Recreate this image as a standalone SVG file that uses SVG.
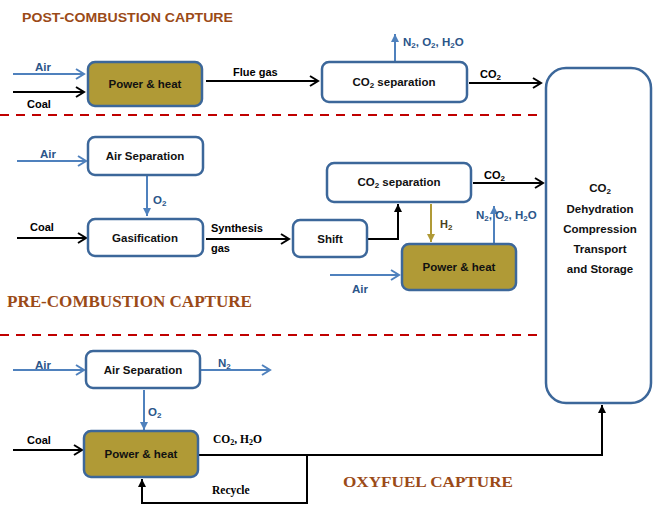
<svg xmlns="http://www.w3.org/2000/svg" width="653" height="506" viewBox="0 0 653 506">
<style>
.box{stroke:#3c679a;stroke-width:2.5}
.w{fill:#ffffff}
.g{fill:#b09a36}
.lbl{font-family:"Liberation Sans",Arial,sans-serif;font-weight:bold;font-size:11.5px;fill:#111;text-anchor:middle}
.st{font-family:"Liberation Sans",Arial,sans-serif;font-weight:bold;font-size:11.5px;fill:#111;text-anchor:middle}
.t{font-family:"Liberation Sans",Arial,sans-serif;font-weight:bold;font-size:11px;fill:#000}
.tb{font-family:"Liberation Sans",Arial,sans-serif;font-weight:bold;font-size:11.5px;fill:#2b5589}
.ts{font-family:"Liberation Serif","Times New Roman",serif;font-weight:bold;font-size:11.5px;fill:#000}
.head{font-weight:bold;fill:#9b4a17}
.blk{stroke:#000;stroke-width:2;fill:none}
.blu{stroke:#4f81bd;stroke-width:2;fill:none}
.gld{stroke:#b09a36;stroke-width:2;fill:none}
.dash{stroke:#c00000;stroke-width:2;stroke-dasharray:9,7;fill:none}
</style>
<defs>
<marker id="ob" viewBox="-10 -6 12 12" refX="0" refY="0" markerWidth="12" markerHeight="12" markerUnits="userSpaceOnUse" orient="auto"><polyline points="-8,-5 0,0 -8,5" fill="none" stroke="#000" stroke-width="2"/></marker>
<marker id="oc" viewBox="-10 -6 12 12" refX="0" refY="0" markerWidth="12" markerHeight="12" markerUnits="userSpaceOnUse" orient="auto"><polyline points="-8,-5 0,0 -8,5" fill="none" stroke="#4f81bd" stroke-width="2"/></marker>
<marker id="fb" viewBox="-8 -5 9 10" refX="0" refY="0" markerWidth="9" markerHeight="10" markerUnits="userSpaceOnUse" orient="auto"><polygon points="-8,-4 0,0 -8,4" fill="#000"/></marker>
<marker id="fc" viewBox="-8 -5 9 10" refX="0" refY="0" markerWidth="9" markerHeight="10" markerUnits="userSpaceOnUse" orient="auto"><polygon points="-8,-4 0,0 -8,4" fill="#4f81bd"/></marker>
<marker id="fg" viewBox="-8 -5 9 10" refX="0" refY="0" markerWidth="9" markerHeight="10" markerUnits="userSpaceOnUse" orient="auto"><polygon points="-8,-4 0,0 -8,4" fill="#b09a36"/></marker>
</defs>

<rect width="653" height="506" fill="#ffffff"/>

<!-- headings -->
<text x="22" y="22" class="head" font-family="'Liberation Sans',Arial,sans-serif" font-size="13" textLength="211" lengthAdjust="spacingAndGlyphs">POST-COMBUSTION CAPTURE</text>
<text x="7" y="307" class="head" font-family="'Liberation Serif','Times New Roman',serif" font-size="16" textLength="245" lengthAdjust="spacingAndGlyphs">PRE-COMBUSTION CAPTURE</text>
<text x="343" y="487" class="head" font-family="'Liberation Serif','Times New Roman',serif" font-size="15" textLength="170" lengthAdjust="spacingAndGlyphs">OXYFUEL CAPTURE</text>

<!-- dashed separators -->
<line x1="0" y1="115" x2="540" y2="115" class="dash"/>
<line x1="0" y1="335" x2="540" y2="335" class="dash"/>

<g id="connectors">
<!-- post-combustion -->
<line x1="13" y1="74" x2="84" y2="74" class="blu" marker-end="url(#oc)"/>
<line x1="13" y1="92" x2="84" y2="92" class="blk" marker-end="url(#ob)"/>
<line x1="206" y1="81" x2="318" y2="81" class="blk" marker-end="url(#ob)"/>
<line x1="395" y1="61" x2="395" y2="34" class="blu" marker-end="url(#fc)"/>
<line x1="469" y1="83" x2="541" y2="83" class="blk" marker-end="url(#ob)"/>
<!-- pre-combustion -->
<line x1="17" y1="161" x2="86" y2="161" class="blu" marker-end="url(#oc)"/>
<line x1="147" y1="176" x2="147" y2="216" class="blu" marker-end="url(#fc)"/>
<line x1="17" y1="238" x2="86" y2="238" class="blk" marker-end="url(#ob)"/>
<line x1="206" y1="239" x2="289" y2="239" class="blk" marker-end="url(#ob)"/>
<polyline points="368,239 398,239 398,204" class="blk" stroke="#222" marker-end="url(#fb)"/>
<line x1="473" y1="183" x2="543" y2="183" class="blk" marker-end="url(#ob)"/>
<line x1="431" y1="204" x2="431" y2="242" class="gld" marker-end="url(#fg)"/>
<line x1="330" y1="275" x2="399" y2="275" class="blu" marker-end="url(#oc)"/>
<line x1="494" y1="243" x2="494" y2="206" class="blu" marker-end="url(#fc)"/>
<!-- oxyfuel -->
<line x1="13" y1="370" x2="84" y2="370" class="blu" marker-end="url(#oc)"/>
<line x1="201" y1="370" x2="270" y2="370" class="blu" marker-end="url(#oc)"/>
<line x1="144" y1="390" x2="144" y2="430" class="blu" marker-end="url(#fc)"/>
<line x1="13" y1="450" x2="82" y2="450" class="blk" marker-end="url(#ob)"/>
<polyline points="199,455 602,455 602,405" class="blk" marker-end="url(#fb)"/>
<polyline points="307,455 307,503 142,503 142,479" class="blk" marker-end="url(#fb)"/>
</g>

<!-- connector labels -->
<text x="35" y="71" class="tb">Air</text>
<text x="27" y="108" class="t">Coal</text>
<text x="233" y="76" class="t">Flue gas</text>
<text x="403" y="46" class="tb" font-size="12">N<tspan font-size="8" dy="2">2</tspan><tspan dy="-2">, O</tspan><tspan font-size="8" dy="2">2</tspan><tspan dy="-2">, H</tspan><tspan font-size="8" dy="2">2</tspan><tspan dy="-2">O</tspan></text>
<text x="480" y="78" class="t" font-size="12">CO<tspan font-size="8" dy="2">2</tspan></text>

<text x="40" y="158" class="tb">Air</text>
<text x="153" y="204" class="tb">O<tspan font-size="8" dy="2">2</tspan></text>
<text x="30" y="231" class="t">Coal</text>
<text x="211" y="232" class="t" font-size="10">Synthesis</text>
<text x="211" y="252" class="t" font-size="10">gas</text>
<text x="484" y="179" class="t" font-size="12">CO<tspan font-size="8" dy="2">2</tspan></text>
<text x="440" y="228" class="t" style="fill:#4a4020" font-size="12">H<tspan font-size="8" dy="2">2</tspan></text>
<text x="352" y="293" class="tb">Air</text>
<text x="476" y="219" class="tb" font-size="12">N<tspan font-size="8" dy="2">2</tspan><tspan dy="-2">, O</tspan><tspan font-size="8" dy="2">2</tspan><tspan dy="-2">, H</tspan><tspan font-size="8" dy="2">2</tspan><tspan dy="-2">O</tspan></text>

<text x="35" y="369" class="tb">Air</text>
<text x="218" y="367" class="tb">N<tspan font-size="8" dy="2">2</tspan></text>
<text x="148" y="416" class="tb">O<tspan font-size="8" dy="2">2</tspan></text>
<text x="27" y="444" class="t">Coal</text>
<text x="213" y="443" class="ts">CO<tspan font-size="8" dy="2">2</tspan><tspan dy="-2">, H</tspan><tspan font-size="8" dy="2">2</tspan><tspan dy="-2">O</tspan></text>
<text x="212" y="494" class="ts">Recycle</text>

<!-- nodes -->
<g id="post-power">
<rect x="88" y="62" width="114" height="44" rx="7" class="box g"/>
<text x="145" y="88" class="lbl">Power &amp; heat</text>
</g>
<g id="post-co2sep">
<rect x="322" y="62" width="145" height="40" rx="7" class="box w"/>
<text x="394" y="86" class="lbl">CO<tspan font-size="8" dy="2">2</tspan><tspan dy="-2"> separation</tspan></text>
</g>
<g id="storage">
<rect x="546" y="68" width="105" height="335" rx="20" class="box w"/>
<text class="st" x="600" y="192">CO<tspan font-size="8" dy="2">2</tspan></text>
<text class="st" x="600" y="213">Dehydration</text>
<text class="st" x="600" y="233">Compression</text>
<text class="st" x="600" y="253">Transport</text>
<text class="st" x="600" y="273">and Storage</text>
</g>

<g id="pre-airsep">
<rect x="88" y="137" width="115" height="38" rx="7" class="box w"/>
<text x="145" y="160" class="lbl">Air Separation</text>
</g>
<g id="pre-gasification">
<rect x="88" y="219" width="115" height="37" rx="7" class="box w"/>
<text x="145" y="242" class="lbl">Gasification</text>
</g>
<g id="pre-shift">
<rect x="293" y="220" width="74" height="37" rx="7" class="box w"/>
<text x="330" y="243" class="lbl">Shift</text>
</g>
<g id="pre-co2sep">
<rect x="327" y="163" width="144" height="39" rx="7" class="box w"/>
<text x="399" y="186" class="lbl">CO<tspan font-size="8" dy="2">2</tspan><tspan dy="-2"> separation</tspan></text>
</g>
<g id="pre-power">
<rect x="402" y="244" width="114" height="46" rx="7" class="box g"/>
<text x="459" y="271" class="lbl">Power &amp; heat</text>
</g>

<g id="oxy-airsep">
<rect x="86" y="351" width="114" height="37" rx="7" class="box w"/>
<text x="143" y="374" class="lbl">Air Separation</text>
</g>
<g id="oxy-power">
<rect x="84" y="431" width="114" height="46" rx="7" class="box g"/>
<text x="141" y="458" class="lbl">Power &amp; heat</text>
</g>
</svg>
